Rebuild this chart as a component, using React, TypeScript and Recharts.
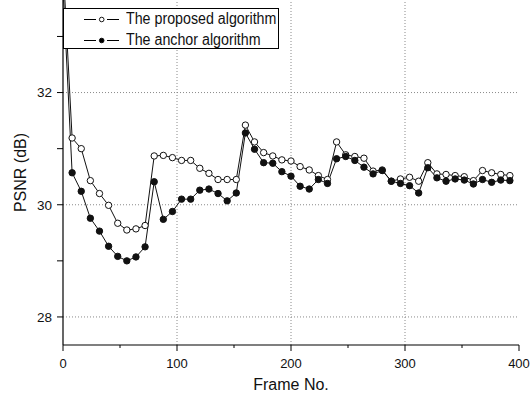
import React from 'react';
import { LineChart, Line, XAxis, YAxis, ReferenceLine, Legend } from 'recharts';

const FONT = '"Liberation Sans", Arial, Helvetica, sans-serif';

const frames = [
  0, 8, 16, 24, 32, 40, 48, 56, 64, 72,
  80, 88, 96, 104, 112, 120, 128, 136, 144, 152,
  160, 168, 176, 184, 192, 200, 208, 216, 224, 232,
  240, 248, 256, 264, 272, 280, 288, 296, 304, 312,
  320, 328, 336, 344, 352, 360, 368, 376, 384, 392,
];

const proposedPSNR = [
  34.3, 31.19, 31.0, 30.43, 30.2, 29.99, 29.67, 29.55, 29.57, 29.63,
  30.87, 30.88, 30.84, 30.79, 30.79, 30.65, 30.56, 30.45, 30.45, 30.45,
  31.42, 31.12, 30.93, 30.87, 30.8, 30.78, 30.68, 30.62, 30.52, 30.45,
  31.12, 30.89, 30.86, 30.83, 30.6, 30.62, 30.42, 30.46, 30.49, 30.42,
  30.75, 30.55, 30.54, 30.52, 30.5, 30.43, 30.61, 30.57, 30.54, 30.52,
];

const anchorPSNR = [
  33.9, 30.57, 30.24, 29.76, 29.53, 29.26, 29.08, 29.0, 29.07, 29.25,
  30.41, 29.74, 29.88, 30.1, 30.1, 30.26, 30.28, 30.2, 30.07, 30.21,
  31.28, 30.99, 30.75, 30.74, 30.59, 30.51, 30.33, 30.28, 30.45, 30.38,
  30.82, 30.86, 30.79, 30.67, 30.55, 30.61, 30.42, 30.38, 30.34, 30.21,
  30.66, 30.48, 30.42, 30.46, 30.44, 30.37, 30.45, 30.4, 30.44, 30.43,
];

const seriesNames = ['The proposed algorithm', 'The anchor algorithm'];
const xTicks = [0, 50, 100, 150, 200, 250, 300, 350, 400];
const xLabelTicks = [0, 100, 200, 300, 400];
const yTicks = [28, 29, 30, 31, 32, 33];
const yLabelTicks = [28, 30, 32];
const xGrid = [100, 200, 300];
const yGrid = [28, 30, 32];

const data = frames.map((f, i) => ({ frame: f, proposed: proposedPSNR[i], anchor: anchorPSNR[i] }));

const XTick = (props: any) => {
  const { x, y, payload } = props;
  const major = xLabelTicks.includes(payload.value);
  return (
    <g>
      <line x1={x} x2={x} y1={y} y2={y + (major ? 6 : 3)} stroke="#000" strokeWidth={1} />
      {major && (
        <text x={x} y={y + 22.5} textAnchor="middle" fontSize={13} fill="#111" fontFamily={FONT}>
          {payload.value}
        </text>
      )}
    </g>
  );
};

const YTick = (props: any) => {
  const { x, y, payload } = props;
  const major = yLabelTicks.includes(payload.value);
  return (
    <g>
      <line x1={x} x2={x - 6} y1={y} y2={y} stroke="#000" strokeWidth={1} />
      {major && (
        <text x={x - 11} y={y} dy="0.36em" textAnchor="end" fontSize={13.5} fill="#111" fontFamily={FONT}>
          {payload.value}
        </text>
      )}
    </g>
  );
};

const LegendBox = () => (
  <div
    style={{
      width: 216,
      height: 41,
      border: '1px solid #000',
      background: '#fff',
      boxSizing: 'border-box',
      position: 'relative',
    }}
  >
    {seriesNames.map((name, i) => {
      const top = i * 20.5;
      return (
        <div
          key={name}
          style={{ position: 'absolute', left: 0, top, height: 20, display: 'flex', alignItems: 'center', whiteSpace: 'nowrap' }}
        >
          <svg width={60} height={20} style={{ display: 'block', flex: 'none' }}>
            <line x1={20} x2={32} y1={10.5} y2={10.5} stroke="#000" strokeWidth={1} />
            <line x1={43} x2={55} y1={10.5} y2={10.5} stroke="#000" strokeWidth={1} />
            <circle cx={37.7} cy={10.5} r={2.3} fill={i === 0 ? '#fff' : '#000'} stroke="#000" strokeWidth={0.9} />
          </svg>
          <span
            style={{
              marginLeft: 2,
              fontFamily: FONT,
              fontSize: 16,
              color: '#111',
              display: 'inline-block',
              transform: 'scaleX(0.89)',
              transformOrigin: 'left center',
              lineHeight: '20px',
            }}
          >
            {name}
          </span>
        </div>
      );
    })}
  </div>
);

export default function App() {
  return (
    <div style={{ position: 'absolute', left: 0, top: 0, width: 531, height: 398, background: '#fff' }}>
      <LineChart width={531} height={398} data={data} margin={{ top: 0, right: 12, bottom: 0, left: 0 }}>
        {xGrid.map((v) => (
          <ReferenceLine key={'x' + v} x={v} stroke="#8a8a8a" strokeDasharray="1 2" strokeWidth={1} />
        ))}
        {yGrid.map((v) => (
          <ReferenceLine key={'y' + v} y={v} stroke="#8a8a8a" strokeDasharray="1 2" strokeWidth={1} />
        ))}
        <XAxis
          dataKey="frame"
          type="number"
          domain={[0, 400]}
          ticks={xTicks}
          interval={0}
          height={53}
          tickSize={0}
          tickMargin={0}
          tickLine={false}
          tick={<XTick />}
          axisLine={{ stroke: '#000', strokeWidth: 1.2 }}
          label={{
            value: 'Frame No.',
            position: 'insideBottom',
            offset: 8,
            style: { fontSize: 16, fill: '#111', fontFamily: FONT },
          }}
        />
        <YAxis
          type="number"
          domain={[27.5, 33.65]}
          allowDataOverflow
          ticks={yTicks}
          interval={0}
          width={63}
          tickSize={0}
          tickMargin={0}
          tickLine={false}
          tick={<YTick />}
          axisLine={{ stroke: '#000', strokeWidth: 1.2 }}
          label={{
            value: 'PSNR (dB)',
            angle: -90,
            position: 'insideLeft',
            offset: 20,
            style: { fontSize: 16, fill: '#111', fontFamily: FONT, textAnchor: 'middle' },
          }}
        />
        <Line
          dataKey="proposed"
          name={seriesNames[0]}
          stroke="#111"
          strokeWidth={1}
          dot={{ r: 3.2, fill: '#fff', stroke: '#111', strokeWidth: 1 }}
          activeDot={false}
          isAnimationActive={false}
        />
        <Line
          dataKey="anchor"
          name={seriesNames[1]}
          stroke="#111"
          strokeWidth={1}
          dot={{ r: 3.2, fill: '#111', stroke: '#111', strokeWidth: 1 }}
          activeDot={false}
          isAnimationActive={false}
        />
        <Legend
          layout="vertical"
          align="center"
          verticalAlign="middle"
          content={<LegendBox />}
          wrapperStyle={{ left: 63, top: 8, width: 216, height: 41 }}
        />
      </LineChart>
    </div>
  );
}
